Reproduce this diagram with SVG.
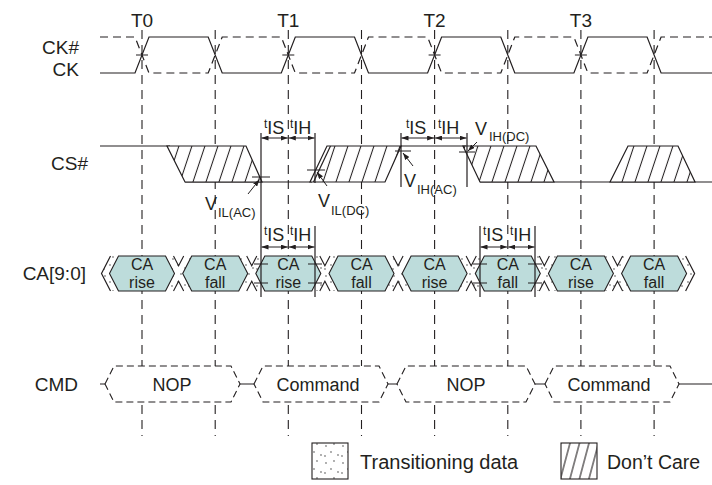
<svg xmlns="http://www.w3.org/2000/svg" width="712" height="485" viewBox="0 0 712 485">
<defs>
<style>
text{font-family:"Liberation Sans",Arial,sans-serif;fill:#231f20}
.lbl{font-size:18px}
.sig{font-size:19px;text-anchor:end}
.end{text-anchor:end}
.mid{text-anchor:middle}
.ln{stroke:#231f20;stroke-width:1.2;fill:none}
.guide{stroke:#231f20;stroke-width:1.1;fill:none;stroke-dasharray:9 6}
.ckd{stroke:#231f20;stroke-width:1.2;fill:none;stroke-dasharray:8 5}
.cmd{stroke:#231f20;stroke-width:1.1;fill:#fff;stroke-dasharray:7 4}
.box{fill:#bddcdb;stroke:#231f20;stroke-width:1.1}
.hatch{fill:url(#hatch);stroke:#231f20;stroke-width:1.2}
.notch{fill:#fff;stroke:#231f20;stroke-width:1.1}
.ca{font-size:16px;text-anchor:middle}
.sup{font-size:12px}
.sub{font-size:13px}
.dim{stroke:#231f20;stroke-width:1;fill:none;marker-start:url(#ah);marker-end:url(#ah)}
.ptr{stroke:#231f20;stroke-width:1;fill:none;marker-end:url(#ah)}
</style>
<pattern id="hatch" patternUnits="userSpaceOnUse" width="13" height="36" patternTransform="skewX(-18.4)">
<rect width="13" height="36" fill="#fff"/>
<line x1="6.5" y1="0" x2="6.5" y2="36" stroke="#231f20" stroke-width="1.1"/>
</pattern>
<pattern id="hatch2" patternUnits="userSpaceOnUse" width="9.5" height="36" patternTransform="skewX(-15)">
<rect width="9.5" height="36" fill="#fff"/>
<line x1="4.75" y1="0" x2="4.75" y2="36" stroke="#231f20" stroke-width="1.1"/>
</pattern>
<pattern id="dots" patternUnits="userSpaceOnUse" width="17" height="17">
<rect width="17" height="17" fill="#fff"/>
<g fill="#8c8c8c">
<circle cx="3" cy="4" r="0.9"/>
<circle cx="11" cy="2" r="0.9"/>
<circle cx="8" cy="10" r="0.9"/>
<circle cx="15" cy="13" r="0.9"/>
<circle cx="2" cy="14" r="0.9"/>
</g>
</pattern>
<marker id="ah" viewBox="0 0 7 5" refX="7" refY="2.5" markerWidth="7" markerHeight="5" markerUnits="userSpaceOnUse" orient="auto-start-reverse">
<path d="M0,0 L7,2.5 L0,5 z" fill="#231f20"/>
</marker>
</defs>
<rect width="712" height="485" fill="#fff"/>

<g id="guides" class="guide">
<line x1="142" y1="30" x2="142" y2="436"/>
<line x1="215.2" y1="30" x2="215.2" y2="436"/>
<line x1="288.3" y1="30" x2="288.3" y2="436"/>
<line x1="361.5" y1="30" x2="361.5" y2="436"/>
<line x1="434.6" y1="30" x2="434.6" y2="436"/>
<line x1="507.8" y1="30" x2="507.8" y2="436"/>
<line x1="580.9" y1="30" x2="580.9" y2="436"/>
<line x1="654.1" y1="30" x2="654.1" y2="436"/>
</g>

<g id="time-labels" class="mid" style="font-size:19px">
<text x="142" y="27">T0</text>
<text x="288.3" y="27">T1</text>
<text x="434.6" y="27">T2</text>
<text x="580.9" y="27">T3</text>
</g>

<g id="clock">
<path class="ln" d="M100,73 L135,73 L149,37 L208.2,37 L222.2,73 L281.3,73 L295.3,37 L354.5,37 L368.5,73 L427.6,73 L441.6,37 L500.8,37 L514.8,73 L573.9,73 L587.9,37 L647.1,37 L661.1,73 L712,73"/>
<path class="ckd" d="M100,37 L135,37 L149,73 L208.2,73 L222.2,37 L281.3,37 L295.3,73 L354.5,73 L368.5,37 L427.6,37 L441.6,73 L500.8,73 L514.8,37 L573.9,37 L587.9,73 L647.1,73 L661.1,37 L712,37"/>
<path class="ln" d="M136,55 H148 M282.3,55 H294.3 M428.6,55 H440.6 M574.9,55 H586.9"/>
<text class="sig" x="79" y="54">CK#</text>
<text class="sig" x="79" y="76">CK</text>
</g>

<g id="cs">
<path class="ln" d="M100,146 H170 M185,182 H312 M401,146 H466 M480,182 H712"/>
<polygon class="hatch" points="167,146 246,146 262,182 185,182"/>
<polygon class="hatch" points="310,182 327,146 401,146 385,182"/>
<line class="ln" x1="313.5" y1="182" x2="330.5" y2="146"/>
<polygon class="hatch" points="463,146 536,146 554,182 480,182"/>
<polygon class="hatch" points="610,182 628,146 678,146 695,182"/>
<text class="sig" x="88" y="170">CS#</text>
</g>

<g id="ca">
<polygon points="110.5,256 685.6,256 694.6,273.5 685.6,291 110.5,291 101.5,273.5" fill="url(#dots)"/>
<path class="ln" d="M110.5,256 L101.5,273.5 L110.5,291 M685.6,256 L694.6,273.5 L685.6,291" stroke-width="1.1"/>
<path class="notch" d="M173.5,256 L178.6,265.8 L183.7,256 M173.5,291 L178.6,281.2 L183.7,291"/>
<path class="notch" d="M246.7,256 L251.75,265.8 L256.8,256 M246.7,291 L251.75,281.2 L256.8,291"/>
<path class="notch" d="M319.8,256 L324.9,265.8 L330,256 M319.8,291 L324.9,281.2 L330,291"/>
<path class="notch" d="M393,256 L398.05,265.8 L403.1,256 M393,291 L398.05,281.2 L403.1,291"/>
<path class="notch" d="M466.1,256 L471.2,265.8 L476.3,256 M466.1,291 L471.2,281.2 L476.3,291"/>
<path class="notch" d="M539.3,256 L544.35,265.8 L549.4,256 M539.3,291 L544.35,281.2 L549.4,291"/>
<path class="notch" d="M612.4,256 L617.5,265.8 L622.6,256 M612.4,291 L617.5,281.2 L622.6,291"/>
<g id="ca0"><polygon class="box" points="109.5,273.5 118.5,256 165.5,256 174.5,273.5 165.5,291 118.5,291"/><text class="ca" x="142" y="270">CA</text><text class="ca" x="142" y="288">rise</text></g>
<g id="ca1"><polygon class="box" points="182.7,273.5 191.7,256 238.7,256 247.7,273.5 238.7,291 191.7,291"/><text class="ca" x="215.2" y="270">CA</text><text class="ca" x="215.2" y="288">fall</text></g>
<g id="ca2"><polygon class="box" points="255.8,273.5 264.8,256 311.8,256 320.8,273.5 311.8,291 264.8,291"/><text class="ca" x="288.3" y="270">CA</text><text class="ca" x="288.3" y="288">rise</text></g>
<g id="ca3"><polygon class="box" points="329,273.5 338,256 385,256 394,273.5 385,291 338,291"/><text class="ca" x="361.5" y="270">CA</text><text class="ca" x="361.5" y="288">fall</text></g>
<g id="ca4"><polygon class="box" points="402.1,273.5 411.1,256 458.1,256 467.1,273.5 458.1,291 411.1,291"/><text class="ca" x="434.6" y="270">CA</text><text class="ca" x="434.6" y="288">rise</text></g>
<g id="ca5"><polygon class="box" points="475.3,273.5 484.3,256 531.3,256 540.3,273.5 531.3,291 484.3,291"/><text class="ca" x="507.8" y="270">CA</text><text class="ca" x="507.8" y="288">fall</text></g>
<g id="ca6"><polygon class="box" points="548.4,273.5 557.4,256 604.4,256 613.4,273.5 604.4,291 557.4,291"/><text class="ca" x="580.9" y="270">CA</text><text class="ca" x="580.9" y="288">rise</text></g>
<g id="ca7"><polygon class="box" points="621.6,273.5 630.6,256 677.6,256 686.6,273.5 677.6,291 630.6,291"/><text class="ca" x="654.1" y="270">CA</text><text class="ca" x="654.1" y="288">fall</text></g>
<text class="sig" x="86" y="280">CA[9:0]</text>
</g>

<g id="cmd">
<path class="ln" d="M100,384 H105 M240,384 H254 M388,384 H397 M535,384 H545 M679,384 H712" stroke-width="1.1"/>
<g id="cmd0"><polygon class="cmd" points="105,384 114,366 231,366 240,384 231,402 114,402"/><text class="lbl mid" x="172" y="391">NOP</text></g>
<g id="cmd1"><polygon class="cmd" points="254,384 263,366 379,366 388,384 379,402 263,402"/><text class="lbl mid" x="318" y="391">Command</text></g>
<g id="cmd2"><polygon class="cmd" points="397,384 406,366 526,366 535,384 526,402 406,402"/><text class="lbl mid" x="466" y="391">NOP</text></g>
<g id="cmd3"><polygon class="cmd" points="545,384 554,366 670,366 679,384 670,402 554,402"/><text class="lbl mid" x="609" y="391">Command</text></g>
<text class="sig" x="78" y="391">CMD</text>
</g>

<g id="timing">
<path class="ln" stroke-width="1.1" d="M261,133 V297 M315,133 V183 M315,226 V297 M401,133 V187 M467,133 V187 M480,226 V297 M535,226 V297"/>
<path class="ln" stroke-width="1.1" d="M252,177 H270 M307,170 H325 M395,151 H411 M459,152 H475 M254,264 H268 M254,283 H268 M308,264 H322 M308,283 H322 M473,264 H487 M473,283 H487 M528,264 H542 M528,283 H542"/>
<line class="dim" x1="261.5" y1="138" x2="287.8" y2="138"/>
<line class="dim" x1="288.8" y1="138" x2="314.5" y2="138"/>
<line class="dim" x1="401.5" y1="138" x2="434.1" y2="138"/>
<line class="dim" x1="435.1" y1="138" x2="466.5" y2="138"/>
<line class="dim" x1="261.5" y1="247" x2="287.8" y2="247"/>
<line class="dim" x1="288.8" y1="247" x2="314.5" y2="247"/>
<line class="dim" x1="480.5" y1="247" x2="507.3" y2="247"/>
<line class="dim" x1="508.3" y1="247" x2="534.5" y2="247"/>
<line class="ptr" x1="248" y1="194" x2="259.5" y2="179.5"/>
<line class="ptr" x1="327" y1="186" x2="317" y2="172"/>
<line class="ptr" x1="413" y1="166" x2="403" y2="153"/>
<line class="ptr" x1="477" y1="142" x2="468" y2="151"/>
<text x="264" y="134" class="lbl"><tspan class="sup" dy="-6">t</tspan><tspan dy="6">IS</tspan></text>
<text x="290" y="134" class="lbl"><tspan class="sup" dy="-6">t</tspan><tspan dy="6">IH</tspan></text>
<text x="406" y="134" class="lbl"><tspan class="sup" dy="-6">t</tspan><tspan dy="6">IS</tspan></text>
<text x="438" y="134" class="lbl"><tspan class="sup" dy="-6">t</tspan><tspan dy="6">IH</tspan></text>
<text x="264" y="241" class="lbl"><tspan class="sup" dy="-6">t</tspan><tspan dy="6">IS</tspan></text>
<text x="290" y="241" class="lbl"><tspan class="sup" dy="-6">t</tspan><tspan dy="6">IH</tspan></text>
<text x="483" y="241" class="lbl"><tspan class="sup" dy="-6">t</tspan><tspan dy="6">IS</tspan></text>
<text x="510" y="241" class="lbl"><tspan class="sup" dy="-6">t</tspan><tspan dy="6">IH</tspan></text>
<text x="205" y="210" class="lbl">V</text><text x="218" y="217" class="sub">IL(AC)</text>
<text x="318" y="207" class="lbl">V</text><text x="331" y="215" class="sub">IL(DC)</text>
<text x="404" y="187" class="lbl">V</text><text x="417" y="194" class="sub">IH(AC)</text>
<text x="475" y="135" class="lbl">V</text><text x="489" y="141" class="sub">IH(DC)</text>
</g>

<g id="legend">
<rect x="312" y="443" width="36" height="36" fill="url(#dots)" stroke="#231f20" stroke-width="1.1"/>
<text x="360" y="469" style="font-size:20px">Transitioning data</text>
<rect x="561" y="443" width="36" height="36" fill="url(#hatch2)" stroke="#231f20" stroke-width="1.1"/>
<text x="607" y="469" style="font-size:19.5px">Don’t Care</text>
</g>
</svg>
